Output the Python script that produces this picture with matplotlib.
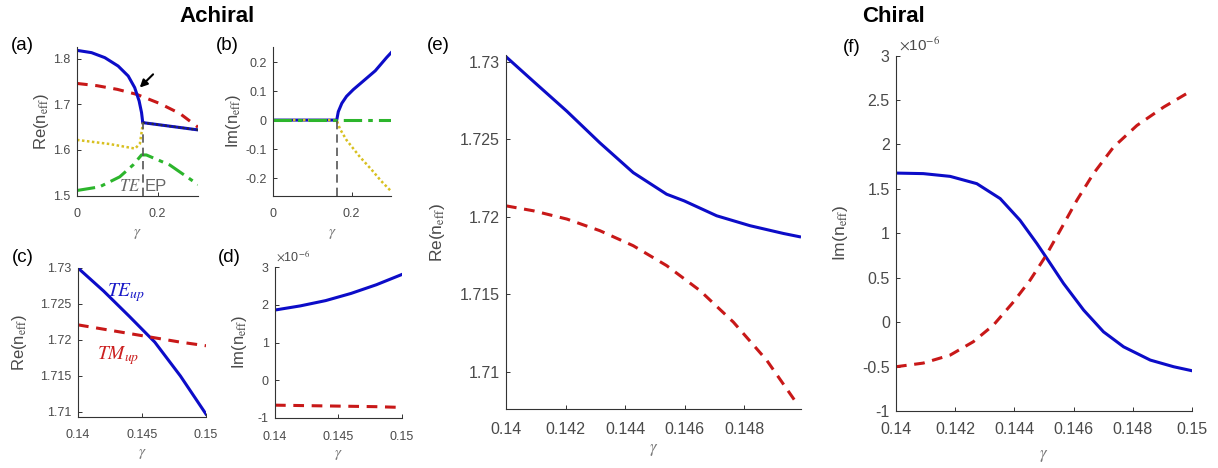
import numpy as np
import matplotlib
matplotlib.use("Agg")
import matplotlib.pyplot as plt

plt.rcParams['font.family'] = ['Liberation Sans', 'DejaVu Sans']
plt.rcParams['mathtext.fontset'] = 'stix'
plt.rcParams['axes.unicode_minus'] = False

W, H = 1218, 468

# --- achiral, full sweep: real part (a) ---
a_gam_te_lo = [0.0, 0.036, 0.069, 0.102, 0.127, 0.143, 0.154, 0.160, 0.163]
a_re_te_lo = [1.8186, 1.8136, 1.8026, 1.7842, 1.7623, 1.7369, 1.7076, 1.6821, 1.6603]
a_gam_te_hi = [0.163, 0.3]
a_re_te_hi = [1.660, 1.644]
a_gam_tm = [0.0, 0.05, 0.1, 0.148, 0.205, 0.255, 0.3]
a_re_tm = [1.746, 1.741, 1.733, 1.722, 1.702, 1.680, 1.650]
a_gam_tel = [0.0, 0.081, 0.144, 0.156, 0.162, 0.163]
a_re_tel = [1.622, 1.613, 1.603, 1.614, 1.650, 1.660]
a_gam_tml = [0.0, 0.056, 0.106, 0.139, 0.160, 0.172, 0.230, 0.3]
a_re_tml = [1.511, 1.519, 1.541, 1.567, 1.589, 1.589, 1.567, 1.524]
gamma_ep = 0.163

# --- achiral, full sweep: imaginary part (b) ---
b_gam_te = [0.0, 0.162, 0.166, 0.175, 0.187, 0.204, 0.229, 0.26, 0.289, 0.3]
b_im_te = [0.0, 0.0, 0.029, 0.058, 0.082, 0.105, 0.134, 0.17, 0.216, 0.232]
b_gam_tel = [0.0, 0.162, 0.17, 0.187, 0.221, 0.25, 0.275, 0.3]
b_im_tel = [0.0, 0.0, -0.03, -0.069, -0.127, -0.17, -0.21, -0.245]
b_gam_flat = [0.0, 0.3]
b_im_flat = [0.0, 0.0]

# --- achiral, zoom near crossing (c, d) ---
cd_gam = [0.14, 0.142, 0.144, 0.146, 0.148, 0.15]
c_re_te = [1.7300, 1.7268, 1.7233, 1.7197, 1.7150, 1.7097]
c_re_tm = [1.7221, 1.7215, 1.7209, 1.7203, 1.7197, 1.7192]
d_im_te_e6 = [1.86, 1.97, 2.11, 2.30, 2.53, 2.80]
d_im_tm_e6 = [-0.66, -0.67, -0.68, -0.69, -0.70, -0.72]

# --- chiral (e, f) ---
e_gam_te = [0.14, 0.14092, 0.14204, 0.14315, 0.14427, 0.14539, 0.14598, 0.14707, 0.14819, 0.14931, 0.14985]
e_re_te = [1.73031, 1.72872, 1.72680, 1.72476, 1.72284, 1.72145, 1.72102, 1.72006, 1.71942, 1.71892, 1.71871]
e_gam_tm = [0.14, 0.14092, 0.14204, 0.14315, 0.14427, 0.14539, 0.14651, 0.14763, 0.14875, 0.14976]
e_re_tm = [1.72070, 1.72038, 1.71985, 1.71910, 1.71813, 1.71685, 1.71524, 1.71321, 1.71075, 1.70797]
f_gam_te = [0.14, 0.14092, 0.14183, 0.14273, 0.14352, 0.14419, 0.14476, 0.14510, 0.14566,
            0.14634, 0.14701, 0.14769, 0.14859, 0.14938, 0.15]
f_im_te_e6 = [1.677, 1.671, 1.640, 1.558, 1.390, 1.146, 0.884, 0.716, 0.435,
              0.135, -0.109, -0.278, -0.427, -0.502, -0.547]
f_gam_tm = [0.14, 0.14092, 0.14183, 0.14261, 0.14329, 0.14397, 0.14453, 0.14504, 0.14555,
            0.14611, 0.14667, 0.14735, 0.14814, 0.14904, 0.15]
f_im_tm_e6 = [-0.502, -0.461, -0.371, -0.221, -0.034, 0.228, 0.472, 0.734, 1.034,
              1.371, 1.671, 1.970, 2.213, 2.419, 2.607]

BLUE = '#0c0cc8'
RED = '#c81818'
GREEN = '#2cb52c'
YELLOW = '#d8c020'
GRAY = '#4a4a4a'
LW = 2.2
DASH = (0, (3.5, 2.5))
DASHDOT = (0, (6, 2, 1.5, 2))


def box(l, r, top, bot):
    return [l / W, 1 - bot / H, (r - l) / W, (bot - top) / H]


def style(ax, tick_fs, xpad):
    for s in ('top', 'right'):
        ax.spines[s].set_visible(False)
    for s in ('left', 'bottom'):
        ax.spines[s].set_color('#333333')
        ax.spines[s].set_linewidth(0.8)
    ax.tick_params(direction='in', length=3, width=0.7, colors='#333333',
                   labelcolor=GRAY, labelsize=tick_fs)
    ax.tick_params(axis='x', pad=xpad)
    ax.tick_params(axis='y', pad=4.5)
    ax.xaxis.set_major_formatter(matplotlib.ticker.FormatStrFormatter('%g'))
    ax.yaxis.set_major_formatter(matplotlib.ticker.FormatStrFormatter('%g'))


fig = plt.figure(figsize=(W / 100, H / 100), dpi=100)

ylab_re = r'Re(n$_{\mathrm{eff}}$)'
ylab_im = r'Im(n$_{\mathrm{eff}}$)'

# (a)
ax = fig.add_axes(box(77, 198, 47, 195.5))
ax.plot(a_gam_tml, a_re_tml, color=GREEN, lw=LW, ls=DASHDOT)
ax.plot(a_gam_tm, a_re_tm, color=RED, lw=LW, ls=DASH)
ax.plot(a_gam_te_lo, a_re_te_lo, color=BLUE, lw=LW)
ax.plot(a_gam_te_hi, a_re_te_hi, color=BLUE, lw=LW)
ax.plot(a_gam_tel, a_re_tel, color=YELLOW, lw=1.8, ls=(0, (1, 1)))
ax.plot(a_gam_te_hi, a_re_te_hi, color='#2a2a40', lw=1.6, ls=(0, (1, 1)))
ax.plot([gamma_ep, gamma_ep], [1.5, a_re_te_hi[0]], color='#555555', lw=1.2, ls=(0, (5, 3)))
ax.annotate('', xy=(0.1556, 1.737), xytext=(0.1886, 1.766),
            arrowprops=dict(arrowstyle='-|>', color='black', lw=1.5, mutation_scale=11,
                            shrinkA=0, shrinkB=0))
ax.text(gamma_ep - 0.006, 1.503, '$TE$', color='#666666', fontsize=12, ha='right', va='bottom')
ax.text(gamma_ep + 0.004, 1.503, 'EP', color='#666666', fontsize=12, ha='left', va='bottom')
ax.set_xlim(0, 0.3)
ax.set_ylim(1.5, 1.826)
ax.set_xticks([0, 0.2])
ax.set_yticks([1.5, 1.6, 1.7, 1.8])
style(ax, 9, 9)
ax.set_ylabel(ylab_re, fontsize=12, color=GRAY, labelpad=2)
ax.set_xlabel(r'$\gamma$', fontsize=11, color='#777777', labelpad=5)

# (b)
ax = fig.add_axes(box(273, 391, 47, 195.5))
ax.plot(b_gam_te, b_im_te, color=BLUE, lw=LW)
ax.plot(b_gam_tel, b_im_tel, color=YELLOW, lw=1.8, ls=(0, (1, 1)))
ax.plot(b_gam_flat, b_im_flat, color=GREEN, lw=LW, ls=DASHDOT)
ax.plot([b_gam_te[1], b_gam_te[1]], [-0.26, 0.0], color='#555555', lw=1.2, ls=(0, (5, 3)))
ax.set_xlim(0, 0.3)
ax.set_ylim(-0.26, 0.252)
ax.set_xticks([0, 0.2])
ax.set_yticks([-0.2, -0.1, 0, 0.1, 0.2])
style(ax, 9, 9)
ax.set_ylabel(ylab_im, fontsize=12, color=GRAY, labelpad=2)
ax.set_xlabel(r'$\gamma$', fontsize=11, color='#777777', labelpad=5)

# (c)
ax = fig.add_axes(box(78, 206, 268, 417))
ax.plot(cd_gam, c_re_te, color=BLUE, lw=LW)
ax.plot(cd_gam, c_re_tm, color=RED, lw=LW, ls=DASH)
ax.text(0.1423, 1.7266, '$TE_{up}$', color='#1a1ac8', fontsize=14, ha='left', va='center')
ax.text(0.1415, 1.7178, '$TM_{up}$', color='#cc2020', fontsize=14, ha='left', va='center')
ax.set_xlim(0.14, 0.15)
ax.set_ylim(1.7093, 1.73)
ax.set_xticks([0.14, 0.145, 0.15])
ax.set_yticks([1.71, 1.715, 1.72, 1.725, 1.73])
style(ax, 9, 9)
ax.set_ylabel(ylab_re, fontsize=12, color=GRAY, labelpad=8)
ax.set_xlabel(r'$\gamma$', fontsize=11, color='#777777', labelpad=4)

# (d)
ax = fig.add_axes(box(275, 401.7, 267, 418))
ax.plot(cd_gam, d_im_te_e6, color=BLUE, lw=LW)
ax.plot(cd_gam, d_im_tm_e6, color=RED, lw=LW, ls=DASH)
ax.set_xlim(0.14, 0.15)
ax.set_ylim(-1, 3)
ax.set_xticks([0.14, 0.145, 0.15])
ax.set_yticks([-1, 0, 1, 2, 3])
style(ax, 9, 9)
ax.text(0.01, 1.015, r'$\times$10$^{-6}$', transform=ax.transAxes, fontsize=9,
        color=GRAY, ha='left', va='bottom')
ax.set_ylabel(ylab_im, fontsize=12, color=GRAY, labelpad=6)
ax.set_xlabel(r'$\gamma$', fontsize=11, color='#777777', labelpad=4)

# (e)
ax = fig.add_axes(box(506, 801, 55, 409.3))
ax.plot(e_gam_te, e_re_te, color=BLUE, lw=LW)
ax.plot(e_gam_tm, e_re_tm, color=RED, lw=LW, ls=DASH)
ax.set_xlim(0.14, 0.1499)
ax.set_ylim(1.70759, 1.73042)
ax.set_xticks([0.14, 0.142, 0.144, 0.146, 0.148])
ax.set_yticks([1.71, 1.715, 1.72, 1.725, 1.73])
style(ax, 11.5, 9)
ax.set_ylabel(ylab_re, fontsize=12.5, color=GRAY, labelpad=9)
ax.set_xlabel(r'$\gamma$', fontsize=12, color='#777777', labelpad=4)

# (f)
ax = fig.add_axes(box(896, 1192, 55.5, 411))
ax.plot(f_gam_te, f_im_te_e6, color=BLUE, lw=LW)
ax.plot(f_gam_tm, f_im_tm_e6, color=RED, lw=LW, ls=DASH)
ax.set_xlim(0.14, 0.15)
ax.set_ylim(-1, 3)
ax.set_xticks([0.14, 0.142, 0.144, 0.146, 0.148, 0.15])
ax.set_yticks([-1, -0.5, 0, 0.5, 1, 1.5, 2, 2.5, 3])
style(ax, 11.5, 8)
ax.text(0.01, 1.005, r'$\times$10$^{-6}$', transform=ax.transAxes, fontsize=11,
        color=GRAY, ha='left', va='bottom')
ax.set_ylabel(ylab_im, fontsize=12.5, color=GRAY, labelpad=9)
ax.set_xlabel(r'$\gamma$', fontsize=12, color='#777777', labelpad=8)

# panel letters and group titles
for lab, px, py in [('(a)', 22, 45), ('(b)', 227, 45), ('(c)', 23, 257), ('(d)', 229, 257),
                    ('(e)', 438, 45), ('(f)', 852, 47)]:
    fig.text(px / W, 1 - py / H, lab, fontsize=13.5, ha='center', va='center', color='black')
fig.text(217 / W, 1 - 17 / H, 'Achiral', fontsize=16, fontweight='bold', ha='center', va='center')
fig.text(893 / W, 1 - 17 / H, 'Chiral', fontsize=16, fontweight='bold', ha='center', va='center')

fig.savefig('out.png', dpi=100)
